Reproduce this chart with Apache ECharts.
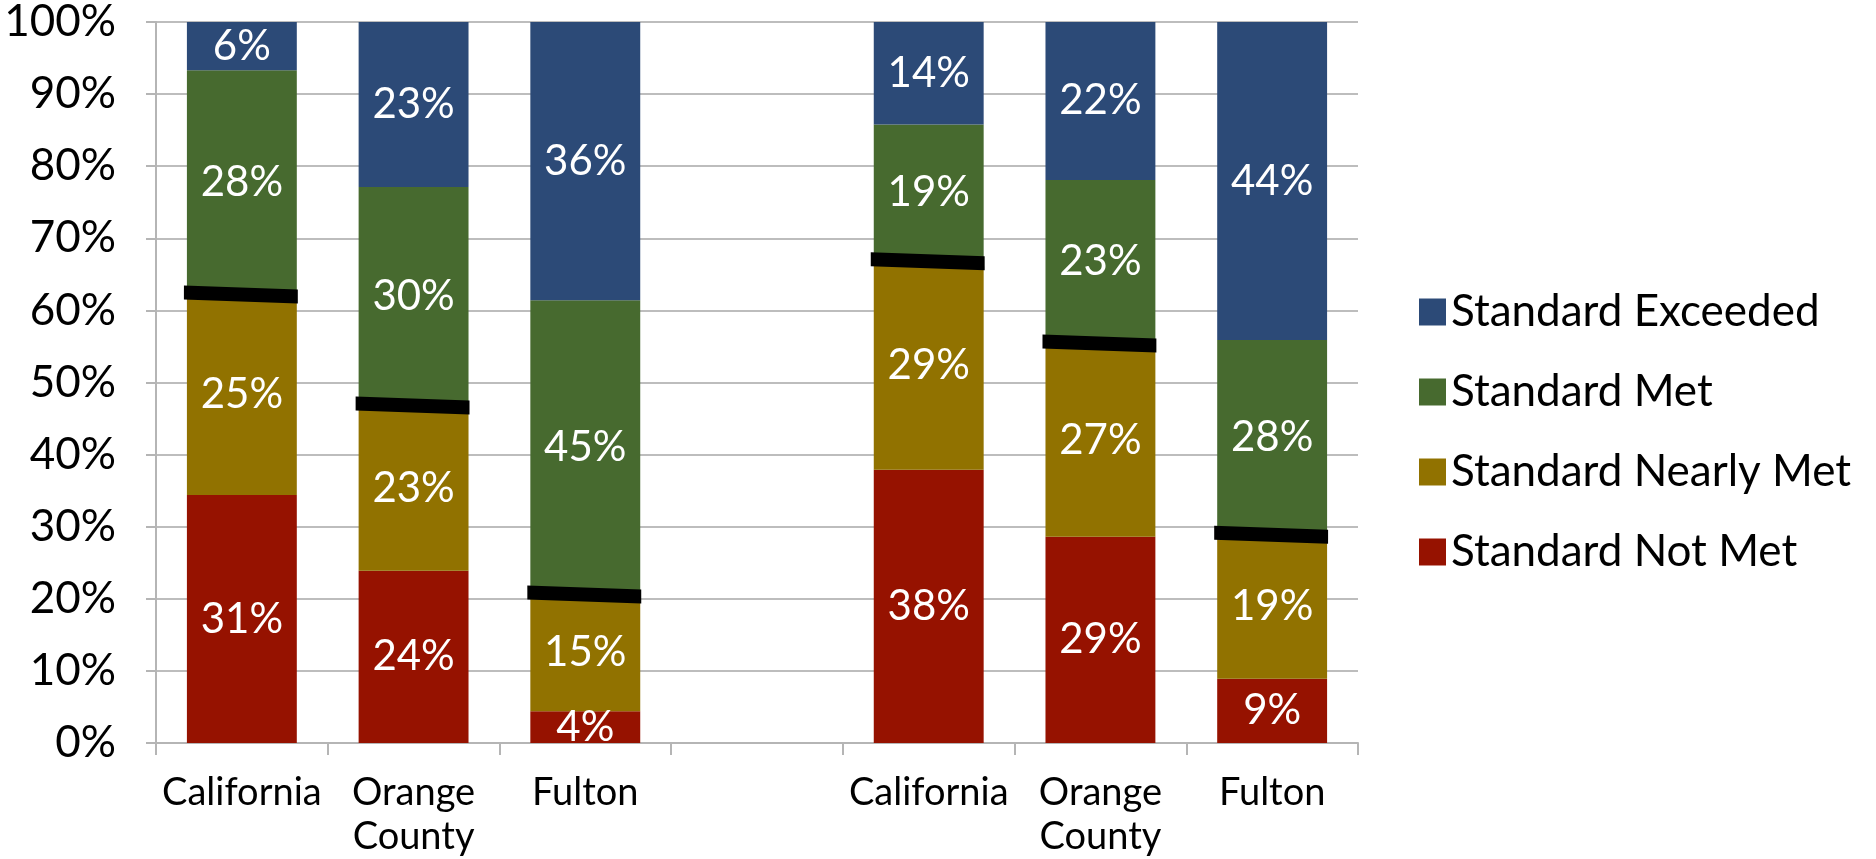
<!DOCTYPE html>
<html>
<head>
<meta charset="utf-8">
<script src="https://cdn.jsdelivr.net/npm/echarts@6/dist/echarts.min.js"></script>
<style>
  html, body { margin: 0; padding: 0; background: #fff; }
  #chart { width: 1876px; height: 859px; }
</style>
</head>
<body>
<div id="chart"></div>
<script>
// categories (the empty one is the gap between the two groups)
var categories = ['California', 'Orange\nCounty', 'Fulton', '', 'California', 'Orange\nCounty', 'Fulton'];

// bar heights (percent of the 100% stack)
var notMet      = [34.4, 23.9,  4.4, null, 37.9, 28.6,  8.9];
var nearlyMet   = [27.8, 22.9, 16.2, null, 28.9, 26.8, 20.0];
var met         = [31.1, 30.3, 40.8, null, 19.0, 22.7, 27.0];
var exceeded    = [ 6.7, 22.9, 38.6, null, 14.2, 21.9, 44.1];

// the numbers printed on each segment
var notMetText    = [31, 24,  4, null, 38, 29,  9];
var nearlyMetText = [25, 23, 15, null, 29, 27, 19];
var metText       = [28, 30, 45, null, 19, 23, 28];
var exceededText  = [ 6, 23, 36, null, 14, 22, 44];

var yTicks = [0, 10, 20, 30, 40, 50, 60, 70, 80, 90, 100];

var colors = {
    exceeded: '#2C4A77',
    met: '#476A2F',
    nearly: '#917200',
    notMet: '#961200'
};

var myChart = echarts.init(document.getElementById('chart'));

function segment(name, values, texts, color) {
    return {
        name: name,
        type: 'bar',
        stack: 'total',
        barWidth: '64%',
        data: values,
        itemStyle: { color: color },
        label: {
            show: true,
            position: 'inside',
            color: '#fff',
            fontFamily: 'Lato',
            fontSize: 42,
            formatter: function (p) {
                var t = texts[p.dataIndex];
                return t == null ? '' : t + '%';
            }
        }
    };
}

// black marks drawn on the Nearly Met / Met boundary
var marks = [];
for (var i = 0; i < categories.length; i++) {
    if (notMet[i] != null) marks.push([i, notMet[i] + nearlyMet[i]]);
}

var option = {
    animation: false,
    textStyle: { fontFamily: 'Lato' },
    grid: { left: 156, right: 518, top: 19, bottom: 115 },
    legend: {
        orient: 'vertical',
        left: 1414,
        top: 282,
        itemWidth: 27,
        itemHeight: 27,
        itemGap: 30,
        icon: 'rect',
        data: ['Standard Exceeded', 'Standard Met', 'Standard Nearly Met', 'Standard Not Met'],
        textStyle: { fontFamily: 'Lato', fontSize: 44, color: '#000', lineHeight: 50, padding: [0, 0, 0, 0] }
    },
    xAxis: {
        type: 'category',
        data: categories,
        axisLine: { lineStyle: { color: '#B5B5B5', width: 2 } },
        axisTick: { show: true, interval: 0, length: 12, lineStyle: { color: '#B5B5B5', width: 2 } },
        axisLabel: {
            interval: 0,
            color: '#000',
            fontFamily: 'Lato',
            fontSize: 38,
            lineHeight: 44,
            margin: 28
        }
    },
    yAxis: {
        type: 'value',
        min: 0,
        max: 100,
        interval: 10,
        axisLine: { show: true, lineStyle: { color: '#B5B5B5', width: 2 } },
        axisTick: { show: true, length: 10, lineStyle: { color: '#B5B5B5', width: 2 } },
        splitLine: { lineStyle: { color: '#BDBDBD', width: 2 } },
        axisLabel: {
            color: '#000',
            fontFamily: 'Lato',
            fontSize: 44,
            margin: 40,
            formatter: function (v) { return yTicks.indexOf(v) >= 0 ? v + '%' : ''; }
        }
    },
    series: [
        segment('Standard Not Met', notMet, notMetText, colors.notMet),
        segment('Standard Nearly Met', nearlyMet, nearlyMetText, colors.nearly),
        segment('Standard Met', met, metText, colors.met),
        segment('Standard Exceeded', exceeded, exceededText, colors.exceeded),
        {
            type: 'custom',
            z: 10,
            data: marks,
            renderItem: function (params, api) {
                var c = api.coord([api.value(0), api.value(1)]);
                var bw = api.size([1, 0])[0] * 0.64;
                var x0 = c[0] - bw / 2 - 3, x1 = c[0] + bw / 2 + 1;
                var h = 14;
                return {
                    type: 'polygon',
                    shape: {
                        points: [
                            [x0, c[1] - 2 - h / 2],
                            [x1, c[1] + 2 - h / 2],
                            [x1, c[1] + 2 + h / 2],
                            [x0, c[1] - 2 + h / 2]
                        ]
                    },
                    style: { fill: '#000' }
                };
            }
        }
    ]
};

myChart.setOption(option);
</script>
</body>
</html>
